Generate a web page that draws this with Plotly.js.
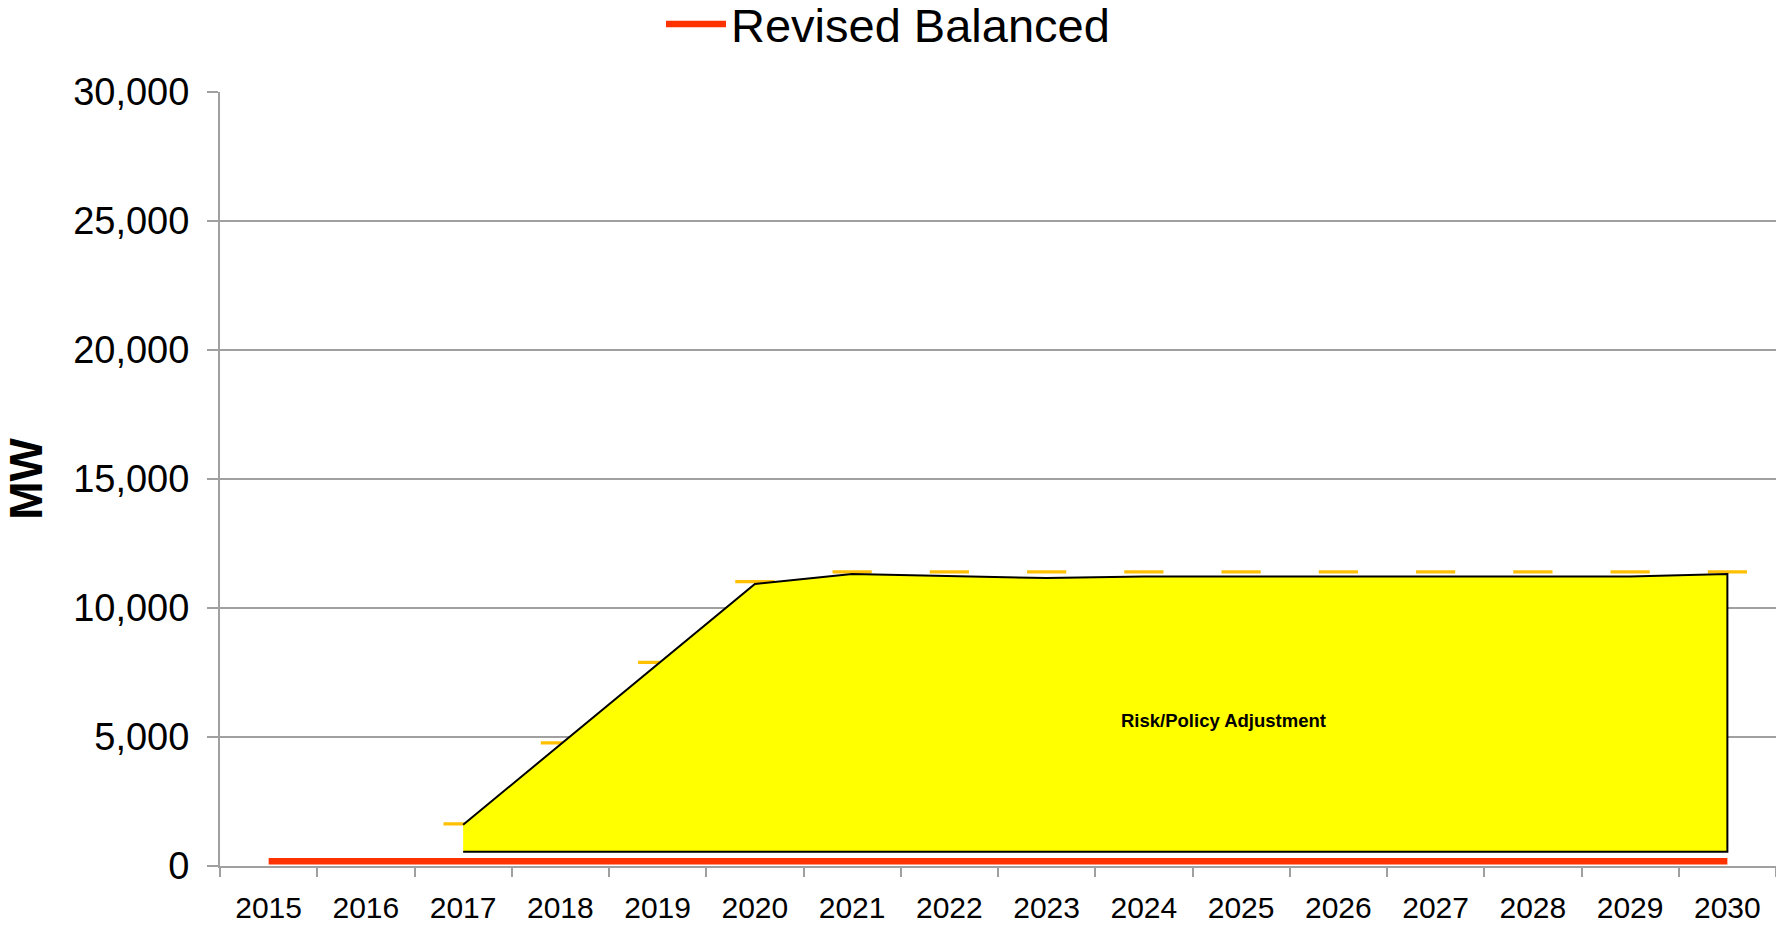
<!DOCTYPE html>
<html>
<head>
<meta charset="utf-8">
<script src="https://cdn.plot.ly/plotly-3.0.1.min.js"></script>
<style>
  html, body { margin: 0; padding: 0; background: #ffffff; }
  #chart { width: 1776px; height: 927px; }
</style>
</head>
<body>
<div id="chart"></div>
<script>
// ---- Data ----
const years = ['2015','2016','2017','2018','2019','2020','2021','2022','2023','2024','2025','2026','2027','2028','2029','2030'];
const revisedBalanced = [180,180,180,180,180,180,180,180,180,180,180,180,180,180,180,180];

// Orange dash markers (total requirement level)
const dashYears = ['2017','2018','2019','2020','2021','2022','2023','2024','2025','2026','2027','2028','2029','2030'];
const dashValues = [1630,4770,7890,11020,11400,11400,11400,11400,11400,11400,11400,11400,11400,11400];

// Yellow "Risk/Policy Adjustment" band
const adjYears = ['2017','2018','2019','2020','2021','2022','2023','2024','2025','2026','2027','2028','2029','2030'];
const adjTop   = [1600,4700,7800,10930,11320,11240,11160,11220,11220,11220,11220,11220,11220,11320];
const adjBase  = [550,550,550,550,550,550,550,550,550,550,550,550,550,550];

const yTickVals = [0,5000,10000,15000,20000,25000,30000];

// ---- Build traces ----
const polyX = adjYears.concat(adjYears.slice().reverse());
const polyY = adjTop.concat(adjBase.slice().reverse());

const FONT = '"Liberation Sans", Arial, sans-serif';

const traces = [
  {
    type: 'scatter', mode: 'markers',
    x: dashYears, y: dashValues,
    marker: { symbol: 'line-ew', size: 28, color: '#FFC000', line: { color: '#FFC000', width: 3.2 } },
    showlegend: false, hoverinfo: 'skip'
  },
  {
    type: 'scatter', mode: 'lines',
    x: polyX, y: polyY,
    fill: 'toself', fillcolor: '#FFFF00',
    line: { color: '#000000', width: 2 },
    showlegend: false, hoverinfo: 'skip'
  },
  {
    type: 'scatter', mode: 'lines',
    name: 'Revised Balanced',
    x: years, y: revisedBalanced,
    line: { color: '#FF3300', width: 6.5 },
    showlegend: true
  }
];

const layout = {
  width: 1776, height: 927,
  margin: { l: 220, r: 0, t: 92, b: 61, pad: 0 },
  paper_bgcolor: '#ffffff', plot_bgcolor: '#ffffff',
  font: { family: FONT, color: '#000000' },
  showlegend: true,
  legend: {
    orientation: 'h',
    xref: 'container', yref: 'container',
    x: 0.5, xanchor: 'center',
    y: 0.9735, yanchor: 'middle',
    font: { family: FONT, size: 47, color: '#000000' },
    itemwidth: 60,
    bgcolor: 'rgba(0,0,0,0)', borderwidth: 0
  },
  xaxis: {
    type: 'category',
    categoryorder: 'array', categoryarray: years,
    range: [-0.5, 15.5],
    showgrid: false, zeroline: false,
    showline: true, linecolor: '#A0A0A0', linewidth: 2,
    ticks: 'outside', tickson: 'boundaries', ticklen: 9, tickcolor: '#A0A0A0', tickwidth: 2,
    ticklabelstandoff: 14,
    tickfont: { family: FONT, size: 30, color: '#000000' },
    fixedrange: true
  },
  yaxis: {
    range: [0, 30000],
    tickvals: yTickVals,
    tickformat: ',d',
    showgrid: true, gridcolor: '#A0A0A0', gridwidth: 1.5,
    zeroline: false,
    showline: true, linecolor: '#A0A0A0', linewidth: 2,
    ticks: 'outside', ticklen: 11, tickcolor: '#A0A0A0', tickwidth: 2,
    ticklabelstandoff: 10,
    tickfont: { family: FONT, size: 38, color: '#000000' },
    title: { text: '<b>MW</b>', font: { family: FONT, size: 46, color: '#000000' }, standoff: 26 },
    fixedrange: true
  },
  annotations: [
    {
      x: 9.82, y: 5640, xref: 'x', yref: 'y',
      text: '<b>Risk/Policy Adjustment</b>',
      showarrow: false,
      font: { family: FONT, size: 18.5, color: '#000000' }
    }
  ]
};

Plotly.newPlot('chart', traces, layout, { displayModeBar: false, staticPlot: true });
</script>
</body>
</html>
